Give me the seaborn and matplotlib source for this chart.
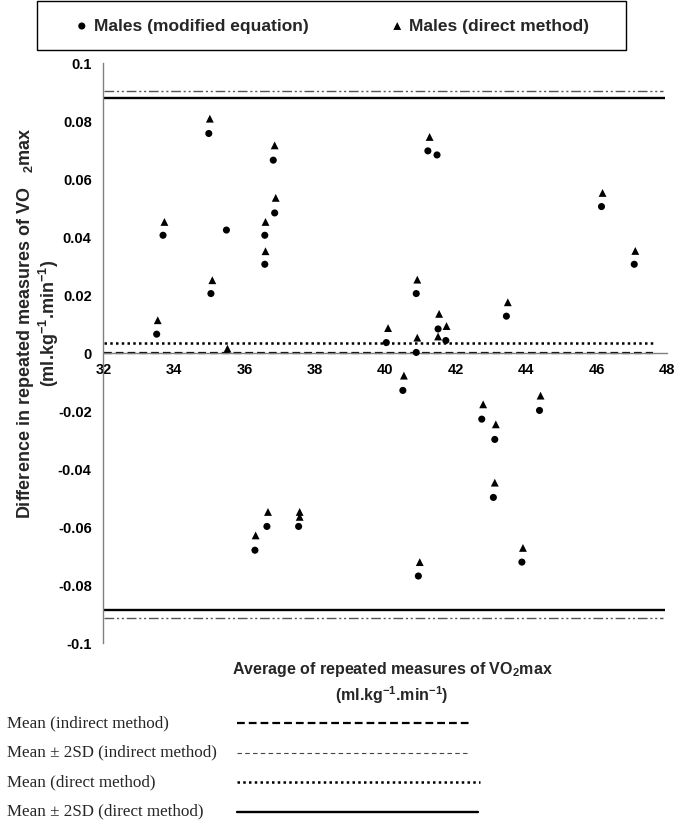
"""
Graphique de Bland-Altman : VO2max, équation modifiée vs méthode directe.
"""
import pandas as pd
import matplotlib
matplotlib.use('Agg')
import matplotlib.pyplot as plt
import seaborn as sns
from matplotlib.lines import Line2D
from matplotlib.patches import Rectangle

# Valeurs
mod_avg = [33.51, 33.69, 34.99, 35.05, 35.49, 36.30, 36.58, 36.58, 36.64, 36.82,
           36.86, 37.54, 40.03, 40.50, 40.88, 40.88, 40.94, 41.21, 41.47, 41.50,
           41.72, 42.74, 43.07, 43.11, 43.44, 43.88, 44.38, 46.14, 47.07]
mod_diff = [0.0066, 0.0407, 0.0758, 0.0206, 0.0425, -0.0679, 0.0407, 0.0307, -0.0597, 0.0666,
            0.0484, -0.0597, 0.0037, -0.0128, 0.0206, 0.0003, -0.0768, 0.0698, 0.0684, 0.0084,
            0.0044, -0.0227, -0.0497, -0.0297, 0.0128, -0.0720, -0.0197, 0.0506, 0.0307]

dir_avg = [33.54, 33.73, 35.02, 35.09, 35.52, 36.32, 36.60, 36.60, 36.67, 36.86,
           36.89, 37.57, 37.57, 40.08, 40.53, 40.91, 40.91, 40.98, 41.26, 41.50,
           41.53, 41.74, 42.78, 43.11, 43.14, 43.48, 43.91, 44.41, 46.17, 47.10]
dir_diff = [0.0114, 0.0453, 0.0809, 0.0252, 0.0016, -0.0628, 0.0453, 0.0352, -0.0547, 0.0717,
            0.0536, -0.0547, -0.0564, 0.0087, -0.0077, 0.0254, 0.0054, -0.0720, 0.0746, 0.0058,
            0.0136, 0.0094, -0.0176, -0.0446, -0.0245, 0.0176, -0.0671, -0.0146, 0.0553, 0.0353]

# Lignes de référence
mean_indirect = 0.0002
sd2_indirect = [0.0904, -0.0912]
mean_direct = 0.0034
sd2_direct = [0.0881, -0.0885]
line_start = 32
mean_end = 47.6
sd2_indirect_end = 47.9
sd2_direct_end = 47.95

x_ticks = [32, 34, 36, 38, 40, 42, 44, 46, 48]
y_ticks = [-0.1, -0.08, -0.06, -0.04, -0.02, 0, 0.02, 0.04, 0.06, 0.08, 0.1]
y_tick_labels = ['-0.1', '-0.08', '-0.06', '-0.04', '-0.02', '0',
                 '0.02', '0.04', '0.06', '0.08', '0.1']

legend_labels = ['Mean (indirect method)', 'Mean \u00b1 2SD (indirect method)',
                 'Mean (direct method)', 'Mean \u00b1 2SD (direct method)']

sns.set_style('white')
plt.rcParams['font.family'] = ['Liberation Sans', 'DejaVu Sans']
plt.rcParams['mathtext.default'] = 'regular'

W, H = 675, 822
DASHDOT = (0, (7, 2, 1.5, 2, 1.5, 2))


def plot_bland_altman(save_path='out.png'):
    df_mod = pd.DataFrame({'avg': mod_avg, 'diff': mod_diff})
    df_dir = pd.DataFrame({'avg': dir_avg, 'diff': dir_diff})

    fig = plt.figure(figsize=(W / 100, H / 100), dpi=100)
    ax = fig.add_axes([103.5 / W, 1 - 643.3 / H, 563.5 / W, 580 / H])

    # Points
    sns.scatterplot(data=df_mod, x='avg', y='diff', marker='o', color='black',
                    s=26, edgecolor='none', ax=ax, zorder=5)
    sns.scatterplot(data=df_dir, x='avg', y='diff', marker='^', color='black',
                    s=32, edgecolor='none', ax=ax, zorder=5)

    # Moyennes et limites d'accord
    ax.hlines(mean_indirect, line_start, mean_end, color='black',
              lw=1.6, linestyles=(0, (3.5, 1.8)))
    ax.hlines(mean_direct, line_start, mean_end, color='black',
              lw=1.8, linestyles=(0, (1, 1.3)))
    ax.hlines(sd2_direct, line_start, sd2_direct_end, color='black', lw=1.7)
    ax.hlines(sd2_indirect, line_start, sd2_indirect_end, color='#555555',
              lw=1.0, linestyles=DASHDOT)

    ax.set_xlim(32, 48)
    ax.set_ylim(-0.1, 0.1)
    ax.set_xticks(x_ticks)
    ax.set_yticks(y_ticks)
    ax.set_yticklabels(y_tick_labels)

    for side in ['top', 'right']:
        ax.spines[side].set_visible(False)
    ax.spines['bottom'].set_position(('data', 0))
    for side in ['left', 'bottom']:
        ax.spines[side].set_color('#808080')
        ax.spines[side].set_linewidth(1.0)

    ax.tick_params(axis='both', direction='out', length=3, width=1,
                   color='#808080', labelsize=10.5, labelcolor='black')
    ax.tick_params(axis='y', pad=5.5)
    ax.tick_params(axis='x', pad=4)
    for lab in ax.get_xticklabels() + ax.get_yticklabels():
        lab.set_fontweight('bold')

    ax.set_xlabel('Average of repeated measures of VO$_{2}$max\n(ml.kg$^{-1}$.min$^{-1}$)',
                  fontsize=11.5, fontweight='bold', linespacing=1.35)
    ax.xaxis.set_label_coords(0.512, -0.028)
    ax.set_ylabel('Difference in repeated measures of VO   $_{2}$max\n(ml.kg$^{-1}$.min$^{-1}$)',
                  fontsize=13, fontweight='bold', linespacing=1.05)
    ax.yaxis.set_label_coords(-0.076, 0.552)

    # Légende du haut (encadrée)
    fig.add_artist(Rectangle((36.5 / W, 1 - 50 / H), 589.5 / W, 49 / H,
                             transform=fig.transFigure, fill=False,
                             edgecolor='black', lw=1.0))
    fig.legend(handles=ax.collections[:2],
               labels=['Males (modified equation)', 'Males (direct method)'],
               loc='center', bbox_to_anchor=(333 / W, 1 - 26 / H), ncol=2,
               frameon=False, handlelength=0.6, handletextpad=0.4,
               columnspacing=4.8, prop={'weight': 'bold', 'size': 12.5})

    # Légende des lignes (en bas)
    row_y = [723, 752.5, 782, 811.5]
    row_end = [470, 467, 480, 478]
    styles = [dict(color='black', lw=1.6, ls=(0, (3.5, 1.8))),
              dict(color='#444444', lw=0.8, ls=(0, (4, 3))),
              dict(color='black', lw=1.8, ls=(0, (1, 1.3))),
              dict(color='black', lw=1.7, ls='-')]
    for label, y, x1, st in zip(legend_labels, row_y, row_end, styles):
        fig.text(7 / W, 1 - y / H, label, family='Liberation Serif',
                 fontsize=12.25, va='center', ha='left')
        fig.add_artist(Line2D([237 / W, x1 / W], [1 - y / H, 1 - y / H],
                              transform=fig.transFigure, **st))

    fig.savefig(save_path, dpi=100)


plot_bland_altman('out.png')
